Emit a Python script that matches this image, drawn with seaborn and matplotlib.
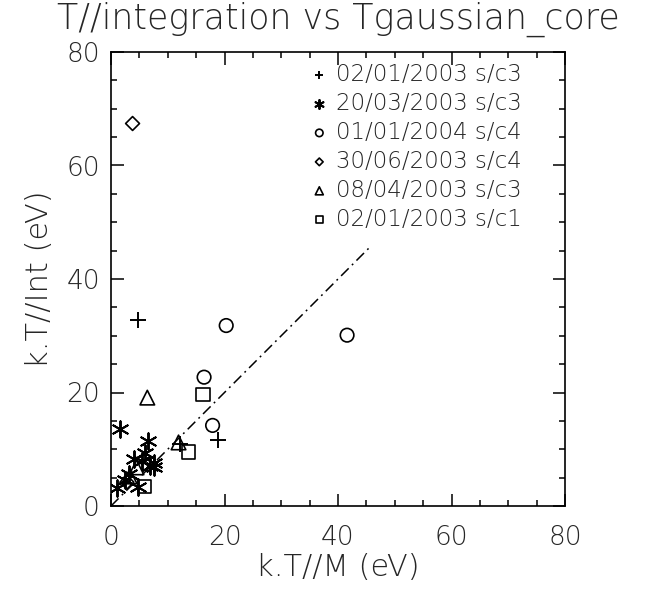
import matplotlib
matplotlib.use("Agg")
import matplotlib.pyplot as plt
from matplotlib import font_manager as fm
import seaborn as sns
import pandas as pd

# Temperature pairs (k.T//M, k.T//Int) in eV, one list pair per event
plus_x = [4.7, 12.2, 18.9]
plus_y = [32.8, 11.0, 11.6]

star_x = [1.6, 6.5, 6.0, 4.0, 7.5, 7.6, 5.5, 3.2, 4.8, 1.0, 2.5, 6.8]
star_y = [13.5, 11.5, 9.4, 8.2, 7.5, 6.8, 8.0, 5.7, 3.4, 3.1, 4.5, 7.0]

circ_x = [20.3, 41.6, 16.4, 17.9]
circ_y = [31.8, 30.1, 22.7, 14.2]

diam_x = [3.8, 2.8]
diam_y = [67.4, 4.2]

tri_x = [6.4, 11.9, 3.3, 4.5]
tri_y = [19.1, 11.2, 5.2, 6.8]

sq_x = [16.2, 13.6, 5.9]
sq_y = [19.7, 9.5, 3.5]

labels = ["02/01/2003 s/c3", "20/03/2003 s/c3", "01/01/2004 s/c4",
          "30/06/2003 s/c4", "08/04/2003 s/c3", "02/01/2003 s/c1"]

diag_x = [0, 45.8]
diag_y = [0, 45.8]


def _weight(entry):
    w = entry.weight
    if isinstance(w, str):
        w = fm.weight_dict.get(w, 400)
    return int(w)


def pick_thin_font():
    """Prefer a thin-stroked sans face; fall back to regular DejaVu Sans."""
    entries = fm.fontManager.ttflist
    for fam in ("DejaVu Sans", "Open Sans", "Noto Sans", "Lato", "Roboto"):
        ws = sorted({_weight(e) for e in entries
                     if e.name == fam and e.style == "normal"})
        thin = [w for w in ws if 200 <= w <= 300]
        if thin:
            return fam, thin[-1]
    return "DejaVu Sans", 400


FONT, WEIGHT = pick_thin_font()

sns.set_theme(style="white")
plt.rcParams["font.family"] = [FONT, "DejaVu Sans"]
plt.rcParams["font.weight"] = WEIGHT
plt.rcParams["axes.labelweight"] = WEIGHT
plt.rcParams["axes.linewidth"] = 1.2

fig = plt.figure(figsize=(6.53, 5.91), dpi=100)
ax = fig.add_axes([111 / 653, 1 - 506 / 591, 454 / 653, 454 / 591])

series = [
    (plus_x, plus_y, "+", 120, False),
    (star_x, star_y, (6, 2, 0), 140, False),
    (circ_x, circ_y, "o", 95, True),
    (diam_x, diam_y, "D", 50, True),
    (tri_x, tri_y, "^", 110, True),
    (sq_x, sq_y, "s", 90, True),
]

for (xs, ys, mk, size, filled), lab in zip(series, labels):
    df = pd.DataFrame({"x": xs, "y": ys})
    if filled:
        sns.scatterplot(data=df, x="x", y="y", marker=mk, s=size, ax=ax,
                        facecolor="none", edgecolor="black", linewidth=1.2,
                        label=lab, zorder=3)
    else:
        sns.scatterplot(data=df, x="x", y="y", marker=mk, s=size, ax=ax,
                        color="black", linewidth=1.4, label=lab, zorder=3)

ax.plot(diag_x, diag_y, color="black", lw=1.1, linestyle=(0, (7, 3, 1.2, 3)))

ax.set_xlim(0, 80)
ax.set_ylim(0, 80)
ax.set_xticks([0, 20, 40, 60, 80])
ax.set_yticks([0, 20, 40, 60, 80])
ax.set_xticks(range(0, 81, 5), minor=True)
ax.set_yticks(range(0, 81, 5), minor=True)
ax.tick_params(which="both", direction="in", top=True, right=True,
               bottom=True, left=True, color="black", width=1.1)
ax.tick_params(which="major", length=9, labelsize=19)
ax.tick_params(which="minor", length=4.5)
ax.tick_params(axis="x", which="major", pad=14)
ax.tick_params(axis="y", which="major", pad=8)
for lbl in ax.get_xticklabels() + ax.get_yticklabels():
    lbl.set_fontweight(WEIGHT)
for sp in ax.spines.values():
    sp.set_color("black")
    sp.set_linewidth(1.2)

ax.set_xlabel("k.T//M (eV)", fontsize=22, labelpad=2, fontweight=WEIGHT)
ax.set_ylabel("k.T//Int (eV)", fontsize=22, labelpad=9, fontweight=WEIGHT)

fig.text(338 / 653, 1 - 29 / 591, "T//integration vs Tgaussian_core",
         fontsize=25, ha="center", va="baseline", fontweight=WEIGHT)

leg = ax.legend(loc="upper left", bbox_to_anchor=(309 / 653, 1 - 63 / 591),
                bbox_transform=fig.transFigure, frameon=False, fontsize=16.5,
                markerscale=0.55, handlelength=0.9, handletextpad=0.3,
                labelspacing=0.26, borderpad=0, borderaxespad=0)
for t in leg.get_texts():
    t.set_fontweight(WEIGHT)

fig.savefig("out.png", dpi=100)
